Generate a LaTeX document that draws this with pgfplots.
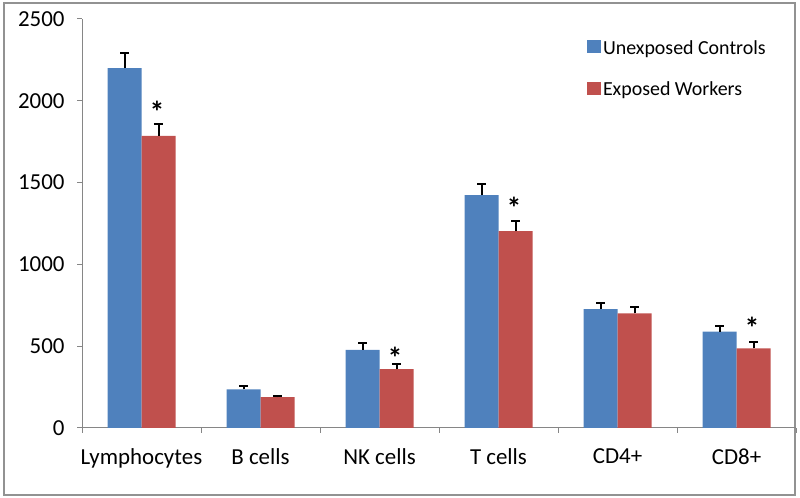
\documentclass[border=0pt]{standalone}
\usepackage{pgfplots}
\pgfplotsset{compat=1.18}
\usepackage{fontspec}
\setmainfont{Carlito}
\definecolor{cblue}{HTML}{4F81BD}
\definecolor{cred}{HTML}{C0504D}
\definecolor{axgray}{HTML}{868686}
\begin{document}
\begin{tikzpicture}
\useasboundingbox (0,0) rectangle (800bp,498bp);
\draw[axgray!90, line width=1.3bp] (4bp,3bp) rectangle (795bp,495bp);
\begin{axis}[
  at={(82bp,70bp)}, anchor=south west,
  scale only axis, width=714bp, height=409bp,
  xmin=-0.5, xmax=5.5, ymin=0, ymax=2500,
  axis lines*=left,
  axis line style={axgray, line width=1bp},
  tick align=outside,
  xtick={-0.5,0.5,...,5.5}, xticklabels={},
  x tick style={axgray, line width=1bp},
  major tick length=5bp,
  extra x ticks={0,1,2,3,4,5},
  extra x tick labels={Lymphocytes,B cells,NK cells,T cells,CD4+,CD8+},
  extra x tick style={major tick length=0pt, x tick style={draw=none},
    xticklabel style={yshift=-17bp}},
  ytick={0,500,...,2500},
  y tick style={axgray, line width=1bp},
  yticklabel style={xshift=-9bp},
  /pgf/number format/assume math mode=true,
  /pgf/number format/set thousands separator={},
  tick label style={font=\fontsize{23}{27}\selectfont, black},
  legend style={draw=none, fill=none, at={(0.707,0.952)}, anchor=north west,
    font=\fontsize{20}{24}\selectfont, row sep=22bp, inner sep=0pt,
    nodes={inner sep=2bp}},
  legend cell align=left,
  legend image code/.code={\fill[#1] (0bp,-5bp) rectangle (14bp,8bp);},
  error bars/y dir=plus, error bars/y explicit,
  error bars/error bar style={line width=2bp, black},
  error bars/error mark options={rotate=90, mark size=4.5bp, line width=2bp, black},
]
\addplot[ybar, bar width=0.2857, bar shift=0, fill=cblue, draw=none]
  coordinates {(-0.14285,2200) +- (0,90) (0.85715,236) +- (0,21) (1.85715,477) +- (0,41)
               (2.85715,1424) +- (0,66) (3.85715,727) +- (0,39) (4.85715,589) +- (0,35)};
\addlegendentry{Unexposed Controls}
\addplot[ybar, bar width=0.2857, bar shift=0, fill=cred, draw=none]
  coordinates {(0.14285,1785) +- (0,74) (1.14285,188) +- (0,8) (2.14285,360) +- (0,33)
               (3.14285,1204) +- (0,61) (4.14285,701) +- (0,37) (5.14285,487) +- (0,40)};
\addlegendentry{Exposed Workers}
\addplot[draw=none, mark=none, forget plot,
  nodes near coords={\textbf{*}},
  every node near coord/.append style={anchor=base, yshift=-15bp,
    font=\fontsize{30}{34}\selectfont, black}]
  coordinates {(0.13,1962) (2.13,458) (3.13,1375) (5.13,636)};
\end{axis}
\end{tikzpicture}
\end{document}
